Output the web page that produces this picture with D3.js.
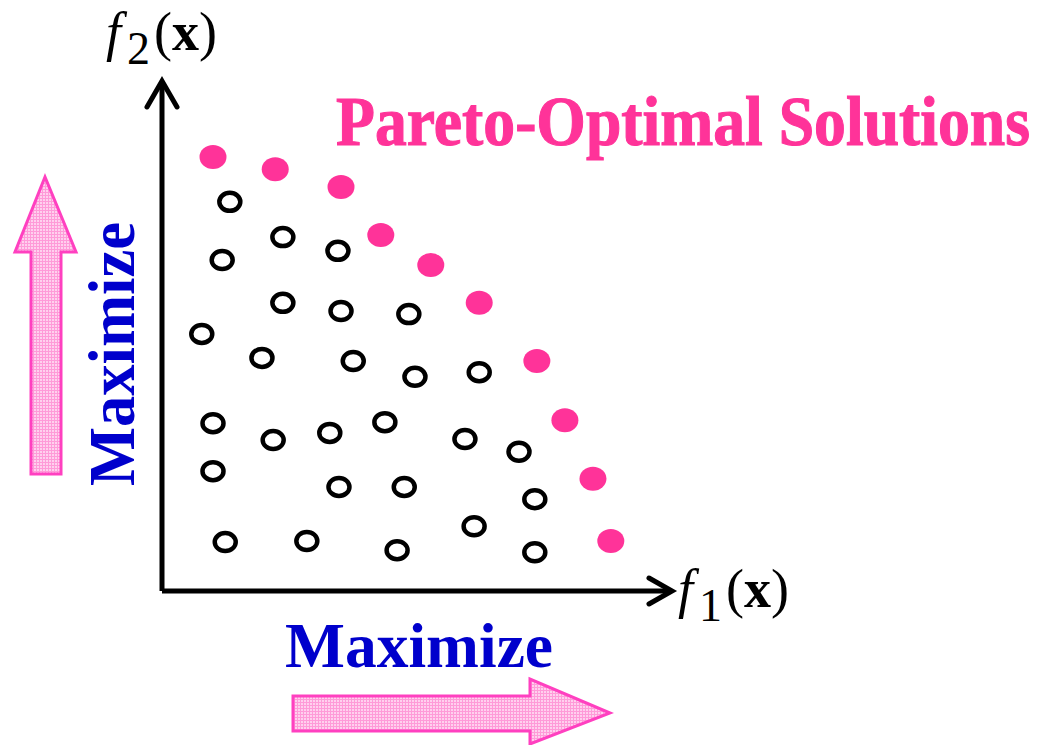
<!DOCTYPE html>
<html>
<head>
<meta charset="utf-8">
<script src="https://cdn.jsdelivr.net/npm/d3@7"></script>
<style>
  body { margin: 0; background: #fff; }
  svg { display: block; }
  text { font-family: "Liberation Serif", "DejaVu Serif", serif; }
</style>
</head>
<body>
<div id="chart"></div>
<script>
// pareto front (filled pink) and dominated solutions (open black), in f1/f2 units
var paretoF1 = [10.0, 22.2, 35.1, 42.9, 52.7, 62.2, 73.5, 79.0, 84.5, 88.0];
var paretoF2 = [85.1, 82.7, 79.2, 69.8, 63.9, 56.5, 45.1, 33.5, 22.0, 9.8];

var otherF1 = [13.3, 23.7, 34.5, 11.8, 23.7, 35.1, 48.4, 7.8, 19.6, 37.5, 49.6, 62.2,
  10.0, 21.8, 32.9, 43.7, 59.4, 70.0, 10.0, 34.7, 47.5, 73.1, 12.4, 28.4, 46.1, 61.2, 73.1];
var otherF2 = [76.3, 69.4, 66.7, 64.9, 56.5, 54.9, 54.3, 50.4, 45.7, 45.1, 42.0, 42.9,
  32.9, 29.6, 31.0, 33.1, 29.8, 27.3, 23.5, 20.4, 20.4, 18.0, 9.6, 9.8, 8.0, 12.7, 7.6];

var titleText = "Pareto-Optimal Solutions";
var dirText = "Maximize";

var width = 1042, height = 745;

var svg = d3.select("#chart")
  .append("svg")
  .attr("width", width)
  .attr("height", height);

var x = d3.scaleLinear()
  .domain([0, 100])
  .range([162, 672]);

var y = d3.scaleLinear()
  .domain([0, 100])
  .range([591, 81]);

// hatch pattern for the big pink arrows
var defs = svg.append("defs");
var pat = defs.append("pattern")
  .attr("id", "hatch")
  .attr("width", 3)
  .attr("height", 3)
  .attr("patternUnits", "userSpaceOnUse");
pat.append("rect").attr("width", 3).attr("height", 3).attr("fill", "#ffd0ee");
pat.append("rect").attr("width", 3).attr("height", 1).attr("fill", "#ff9ad8");
pat.append("rect").attr("width", 1).attr("height", 3).attr("fill", "#ff9ad8");

// axes
var line = d3.line();
svg.append("path")
  .attr("d", line([[x(0), y(0)], [x(100), y(0)]]))
  .attr("stroke", "#000").attr("stroke-width", 5).attr("fill", "none");
svg.append("path")
  .attr("d", line([[x(0), y(0)], [x(0), y(100)]]))
  .attr("stroke", "#000").attr("stroke-width", 5).attr("fill", "none");
// arrow heads
svg.append("path")
  .attr("d", line([[x(100) - 23, y(0) - 13], [x(100), y(0)], [x(100) - 23, y(0) + 13]]))
  .attr("stroke", "#000").attr("stroke-width", 5).attr("fill", "none")
  .attr("stroke-linecap", "round");
svg.append("path")
  .attr("d", line([[x(0) - 15, y(100) + 26], [x(0), y(100)], [x(0) + 15, y(100) + 26]]))
  .attr("stroke", "#000").attr("stroke-width", 5).attr("fill", "none")
  .attr("stroke-linecap", "round");

// axis labels f1(x), f2(x)
function fLabel(px, py, sub) {
  var t = svg.append("text")
    .attr("x", px).attr("y", py)
    .attr("font-size", 54)
    .attr("fill", "#000");
  t.append("tspan").attr("font-style", "italic").text("f");
  t.append("tspan").attr("dy", 14).attr("dx", 6).attr("font-size", 46).text(sub);
  t.append("tspan").attr("dy", -14).attr("dx", 4).text("(");
  t.append("tspan").attr("font-weight", "bold").text("x");
  t.append("tspan").text(")");
}
fLabel(678, 607, "1");
fLabel(106, 50, "2");

// title (slightly stretched vertically, like the condensed original)
svg.append("text")
  .attr("transform", "translate(336,145) scale(1,1.1)")
  .attr("font-weight", "bold")
  .attr("font-size", 63)
  .attr("textLength", 694)
  .attr("lengthAdjust", "spacingAndGlyphs")
  .attr("fill", "#ff3399")
  .attr("stroke", "#ff3399")
  .attr("stroke-width", 1)
  .text(titleText);

// Maximize labels
svg.append("text")
  .attr("x", 285).attr("y", 667)
  .attr("font-weight", "bold")
  .attr("font-size", 64)
  .attr("textLength", 268)
  .attr("lengthAdjust", "spacingAndGlyphs")
  .attr("fill", "#0000cc")
  .text(dirText);

svg.append("text")
  .attr("transform", "translate(134,486) rotate(-90)")
  .attr("font-weight", "bold")
  .attr("font-size", 66)
  .attr("textLength", 264)
  .attr("lengthAdjust", "spacingAndGlyphs")
  .attr("fill", "#0000cc")
  .text(dirText);

// big pink arrows
svg.append("path")
  .attr("d", line([[293, 696], [530, 696], [530, 679], [610, 713], [530, 744], [530, 731], [293, 731]]) + "Z")
  .attr("fill", "url(#hatch)")
  .attr("stroke", "#ff40c0")
  .attr("stroke-width", 3);

svg.append("path")
  .attr("d", line([[31, 474], [31, 252], [15, 252], [45, 177], [76, 252], [61, 252], [61, 474]]) + "Z")
  .attr("fill", "url(#hatch)")
  .attr("stroke", "#ff40c0")
  .attr("stroke-width", 3);

// dominated solutions
svg.append("g")
  .selectAll("ellipse")
  .data(d3.range(otherF1.length))
  .enter()
  .append("ellipse")
  .attr("cx", function (i) { return x(otherF1[i]); })
  .attr("cy", function (i) { return y(otherF2[i]); })
  .attr("rx", 10.5)
  .attr("ry", 9)
  .attr("fill", "none")
  .attr("stroke", "#000")
  .attr("stroke-width", 4.5);

// pareto-optimal solutions
svg.append("g")
  .selectAll("ellipse")
  .data(d3.range(paretoF1.length))
  .enter()
  .append("ellipse")
  .attr("cx", function (i) { return x(paretoF1[i]); })
  .attr("cy", function (i) { return y(paretoF2[i]); })
  .attr("rx", 13.5)
  .attr("ry", 12)
  .attr("fill", "#ff3399");
</script>
</body>
</html>
